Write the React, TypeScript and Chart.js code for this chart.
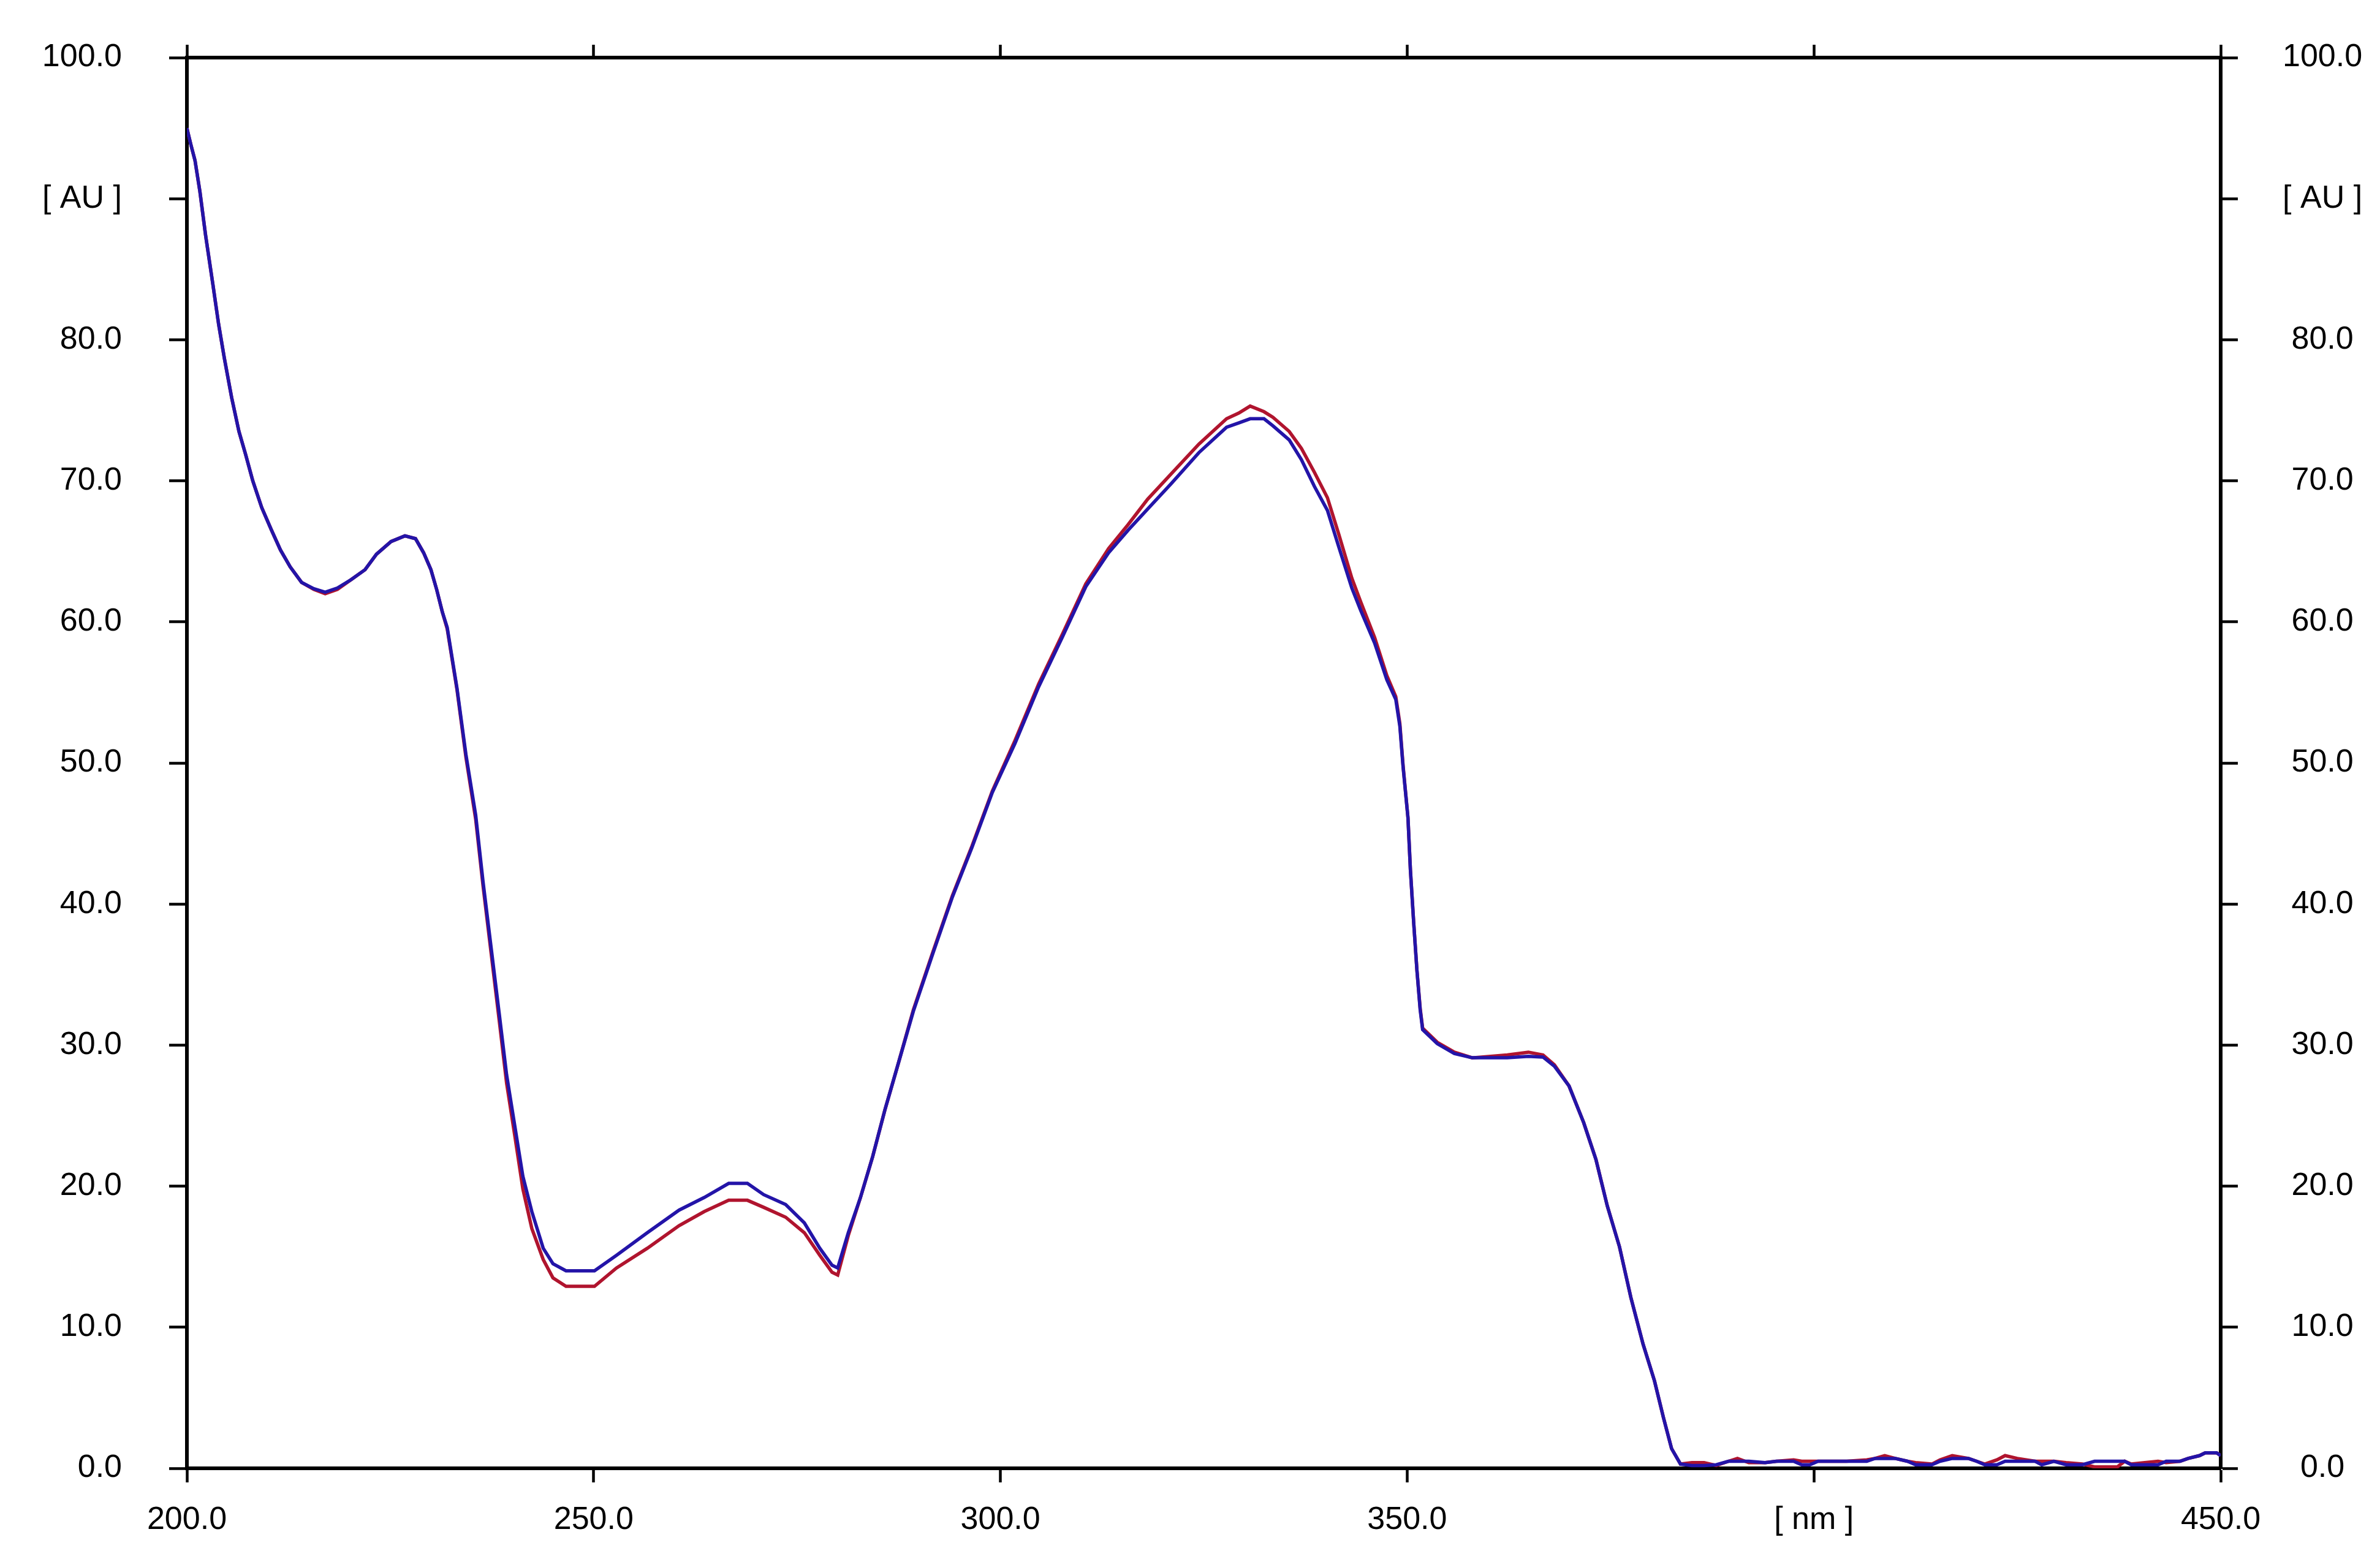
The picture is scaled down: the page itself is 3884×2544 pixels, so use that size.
import React, { useEffect, useRef } from "react";
import { Chart, registerables } from "chart.js";

Chart.register(...registerables);

// Wavelength grid (nm)
const wavelengths: number[] = [
  200, 200.5, 201, 201.6, 202.3, 203.2, 203.9, 204.6, 205.5, 206.4, 207.2, 208.1, 209.2, 210.4,
  211.5, 212.7, 214.1, 215.6, 217.0, 218.5, 220.2, 221.9, 223.3, 225.1, 226.8, 228.1, 229.1,
  230.0, 230.7, 231.4, 232.0, 233.2, 234.3, 235.5, 236.4, 237.4, 238.4, 239.3, 240.3, 241.3,
  242.4, 243.8, 245.0, 246.6, 250.1, 252.8, 256.6, 260.5, 263.6, 266.6, 268.9, 270.9, 273.6,
  275.9, 277.8, 279.3, 280.0, 281.3, 282.8, 284.3, 285.8, 287.4, 289.3, 291.7, 294.1, 296.5,
  299.0, 301.8, 304.7, 307.6, 310.5, 313.3, 315.7, 318.1, 321.0, 324.4, 327.8, 329.3, 330.7,
  332.4, 333.5, 335.5, 337.0, 338.6, 340.2, 341.6, 343.2, 344.3, 346.0, 347.5, 348.6, 349.1,
  349.5, 350.1, 350.4, 350.8, 351.2, 351.6, 351.9, 353.7, 355.8, 358.0, 362.3, 364.9, 366.7,
  368.1, 369.9, 371.7, 373.2, 374.6, 376.1, 377.5, 379.0, 380.4, 381.5, 382.5, 383.6, 385,
  386.5, 388, 389.5, 390.6, 392, 394, 395.4, 397.5, 398.5, 399.5, 400.5, 404, 406.5, 407.5,
  408.7, 410, 411.5, 412.5, 414.5, 415.5, 417, 419, 420, 421, 422.5, 423.5, 425, 427.2, 428,
  429.5, 431, 433, 434.5, 437.3, 438.2, 439, 442.3, 443.3, 445, 446, 447.4, 448.1, 449.5, 450,
];

// Blue trace absorbance (AU)
const blueAU: number[] = [
  95.0, 93.8, 92.7, 90.5, 87.4, 83.9, 81.1, 78.7, 75.9, 73.5, 71.9, 70.0, 68.1, 66.5,
  65.1, 63.9, 62.8, 62.35, 62.1, 62.4, 63.0, 63.7, 64.8, 65.7, 66.1, 65.9, 64.9,
  63.7, 62.3, 60.7, 59.6, 55.3, 50.6, 46.3, 41.6, 36.9, 32.2, 27.9, 24.3, 20.7,
  18.2, 15.6, 14.5, 14.0, 14.0, 15.1, 16.7, 18.3, 19.2, 20.2, 20.2, 19.4, 18.7,
  17.4, 15.6, 14.4, 14.2, 16.7, 19.2, 22.1, 25.4, 28.6, 32.4, 36.5, 40.5, 44.0,
  47.9, 51.4, 55.4, 58.9, 62.5, 64.9, 66.5, 68.0, 69.8, 72.0, 73.8, 74.1, 74.4,
  74.4, 73.9, 72.9, 71.5, 69.6, 67.9, 65.3, 62.4, 60.8, 58.5, 55.9, 54.5, 52.6,
  49.7, 46.1, 42.4, 38.7, 35.3, 32.5, 31.1, 30.1, 29.4, 29.1, 29.1, 29.2, 29.15,
  28.5, 27.1, 24.5, 21.9, 18.6, 15.7, 12.1, 8.8, 6.2, 3.6, 1.4, 0.3, 0.2,
  0.2, 0.25, 0.5, 0.5, 0.5, 0.4, 0.5, 0.5, 0.25, 0.25, 0.5, 0.5, 0.5, 0.7,
  0.7, 0.7, 0.5, 0.25, 0.25, 0.5, 0.7, 0.7, 0.5, 0.25, 0.25, 0.5, 0.5, 0.5, 0.25,
  0.5, 0.25, 0.25, 0.5, 0.5, 0.5, 0.25, 0.25, 0.5, 0.5, 0.7, 0.9, 1.1, 1.1, 0.9,
];

// Red trace absorbance (AU)
const redAU: number[] = [
  95.0, 93.8, 92.7, 90.5, 87.4, 83.9, 81.1, 78.7, 75.9, 73.5, 71.9, 70.0, 68.1, 66.5,
  65.1, 63.9, 62.8, 62.3, 62.0, 62.3, 63.0, 63.7, 64.8, 65.7, 66.1, 65.9, 64.9,
  63.7, 62.3, 60.7, 59.5, 55.2, 50.4, 46.0, 41.3, 36.5, 31.7, 27.3, 23.6, 19.8,
  17.0, 14.8, 13.5, 12.9, 12.9, 14.2, 15.6, 17.2, 18.2, 19.0, 19.0, 18.5, 17.8,
  16.7, 15.1, 13.9, 13.7, 16.5, 19.2, 22.1, 25.4, 28.6, 32.5, 36.6, 40.6, 44.1,
  48.0, 51.6, 55.6, 59.1, 62.7, 65.2, 66.9, 68.7, 70.5, 72.6, 74.4, 74.8, 75.3,
  74.9, 74.5, 73.5, 72.3, 70.6, 68.8, 66.2, 63.1, 61.4, 58.9, 56.2, 54.7, 52.8,
  49.8, 46.1, 42.4, 38.7, 35.3, 32.6, 31.2, 30.2, 29.5, 29.1, 29.3, 29.5, 29.3,
  28.6, 27.1, 24.5, 21.9, 18.6, 15.7, 12.1, 8.8, 6.2, 3.6, 1.4, 0.3, 0.4,
  0.4, 0.2, 0.5, 0.7, 0.4, 0.4, 0.5, 0.6, 0.5, 0.5, 0.5, 0.5, 0.6, 0.7,
  0.9, 0.7, 0.5, 0.4, 0.3, 0.6, 0.9, 0.7, 0.5, 0.3, 0.6, 0.9, 0.7, 0.5, 0.5,
  0.5, 0.4, 0.3, 0.1, 0.1, 0.5, 0.3, 0.5, 0.4, 0.5, 0.7, 0.9, 1.1, 1.1, 0.9,
];

const xTickLabels: Record<number, string> = { 400: "[ nm ]" };
const yTickLabels: Record<number, string> = { 90: "[ AU ]" };

const FONT = { family: '"Liberation Sans", Arial, sans-serif', size: 52 };

export default function App() {
  const ref = useRef<HTMLCanvasElement | null>(null);

  useEffect(() => {
    const canvas = ref.current;
    if (!canvas) return;
    const blue = wavelengths.map((x, i) => ({ x, y: blueAU[i] }));
    const red = wavelengths.map((x, i) => ({ x, y: redAU[i] }));

    const xLabel = (v: any) => (xTickLabels[v] !== undefined ? xTickLabels[v] : Number(v).toFixed(1));
    const yLabel = (v: any) => (yTickLabels[v] !== undefined ? yTickLabels[v] : Number(v).toFixed(1));

    const axisCommon = (tickLength: number) => ({
      grid: {
        drawOnChartArea: false,
        drawTicks: true,
        tickLength,
        tickColor: "#000",
        tickWidth: 4.5,
        color: "#000",
      },
      border: { display: true, color: "#000", width: 6 },
    });

    const chart = new Chart(canvas, {
      type: "line",
      data: {
        datasets: [
          {
            label: "blue",
            data: blue,
            borderColor: "#2314a8",
            borderWidth: 5.5,
            pointRadius: 0,
            tension: 0,
            fill: false,
          },
          {
            label: "red",
            data: red,
            borderColor: "#b0142e",
            borderWidth: 5.5,
            pointRadius: 0,
            tension: 0,
            fill: false,
          },
        ],
      },
      options: {
        animation: false,
        responsive: false,
        devicePixelRatio: 1,
        layout: { padding: 0, autoPadding: false },
        plugins: { legend: { display: false }, tooltip: { enabled: false } },
        scales: {
          x: {
            type: "linear",
            position: "bottom",
            min: 200,
            max: 450,
            ...axisCommon(23),
            ticks: {
              stepSize: 50,
              autoSkip: false,
              maxRotation: 0,
              padding: 30,
              color: "#000",
              font: FONT,
              callback: xLabel,
            },
            afterFit: (s: any) => {
              s.height = 148;
              s.paddingLeft = 0;
              s.paddingRight = 0;
            },
          },
          x2: {
            type: "linear",
            position: "top",
            min: 200,
            max: 450,
            ...axisCommon(21),
            ticks: { stepSize: 50, autoSkip: false, display: false },
            afterFit: (s: any) => {
              s.height = 94;
              s.paddingLeft = 0;
              s.paddingRight = 0;
            },
          },
          y: {
            type: "linear",
            position: "left",
            min: 0,
            max: 100,
            ...axisCommon(29),
            ticks: {
              stepSize: 10,
              autoSkip: false,
              padding: 77,
              color: "#000",
              font: FONT,
              callback: yLabel,
            },
            afterFit: (s: any) => {
              s.width = 305;
              s.paddingTop = 0;
              s.paddingBottom = 0;
            },
          },
          y2: {
            type: "linear",
            position: "right",
            min: 0,
            max: 100,
            ...axisCommon(28),
            ticks: {
              stepSize: 10,
              autoSkip: false,
              padding: 73,
              crossAlign: "center",
              color: "#000",
              font: FONT,
              callback: yLabel,
            },
            afterFit: (s: any) => {
              s.width = 260;
              s.paddingTop = 0;
              s.paddingBottom = 0;
            },
          },
        },
      } as any,
    });

    return () => chart.destroy();
  }, []);

  return (
    <div style={{ position: "absolute", left: 0, top: 0, width: 3884, height: 2544, background: "#fff" }}>
      <canvas ref={ref} width={3884} height={2544} style={{ width: 3884, height: 2544, display: "block" }} />
    </div>
  );
}
